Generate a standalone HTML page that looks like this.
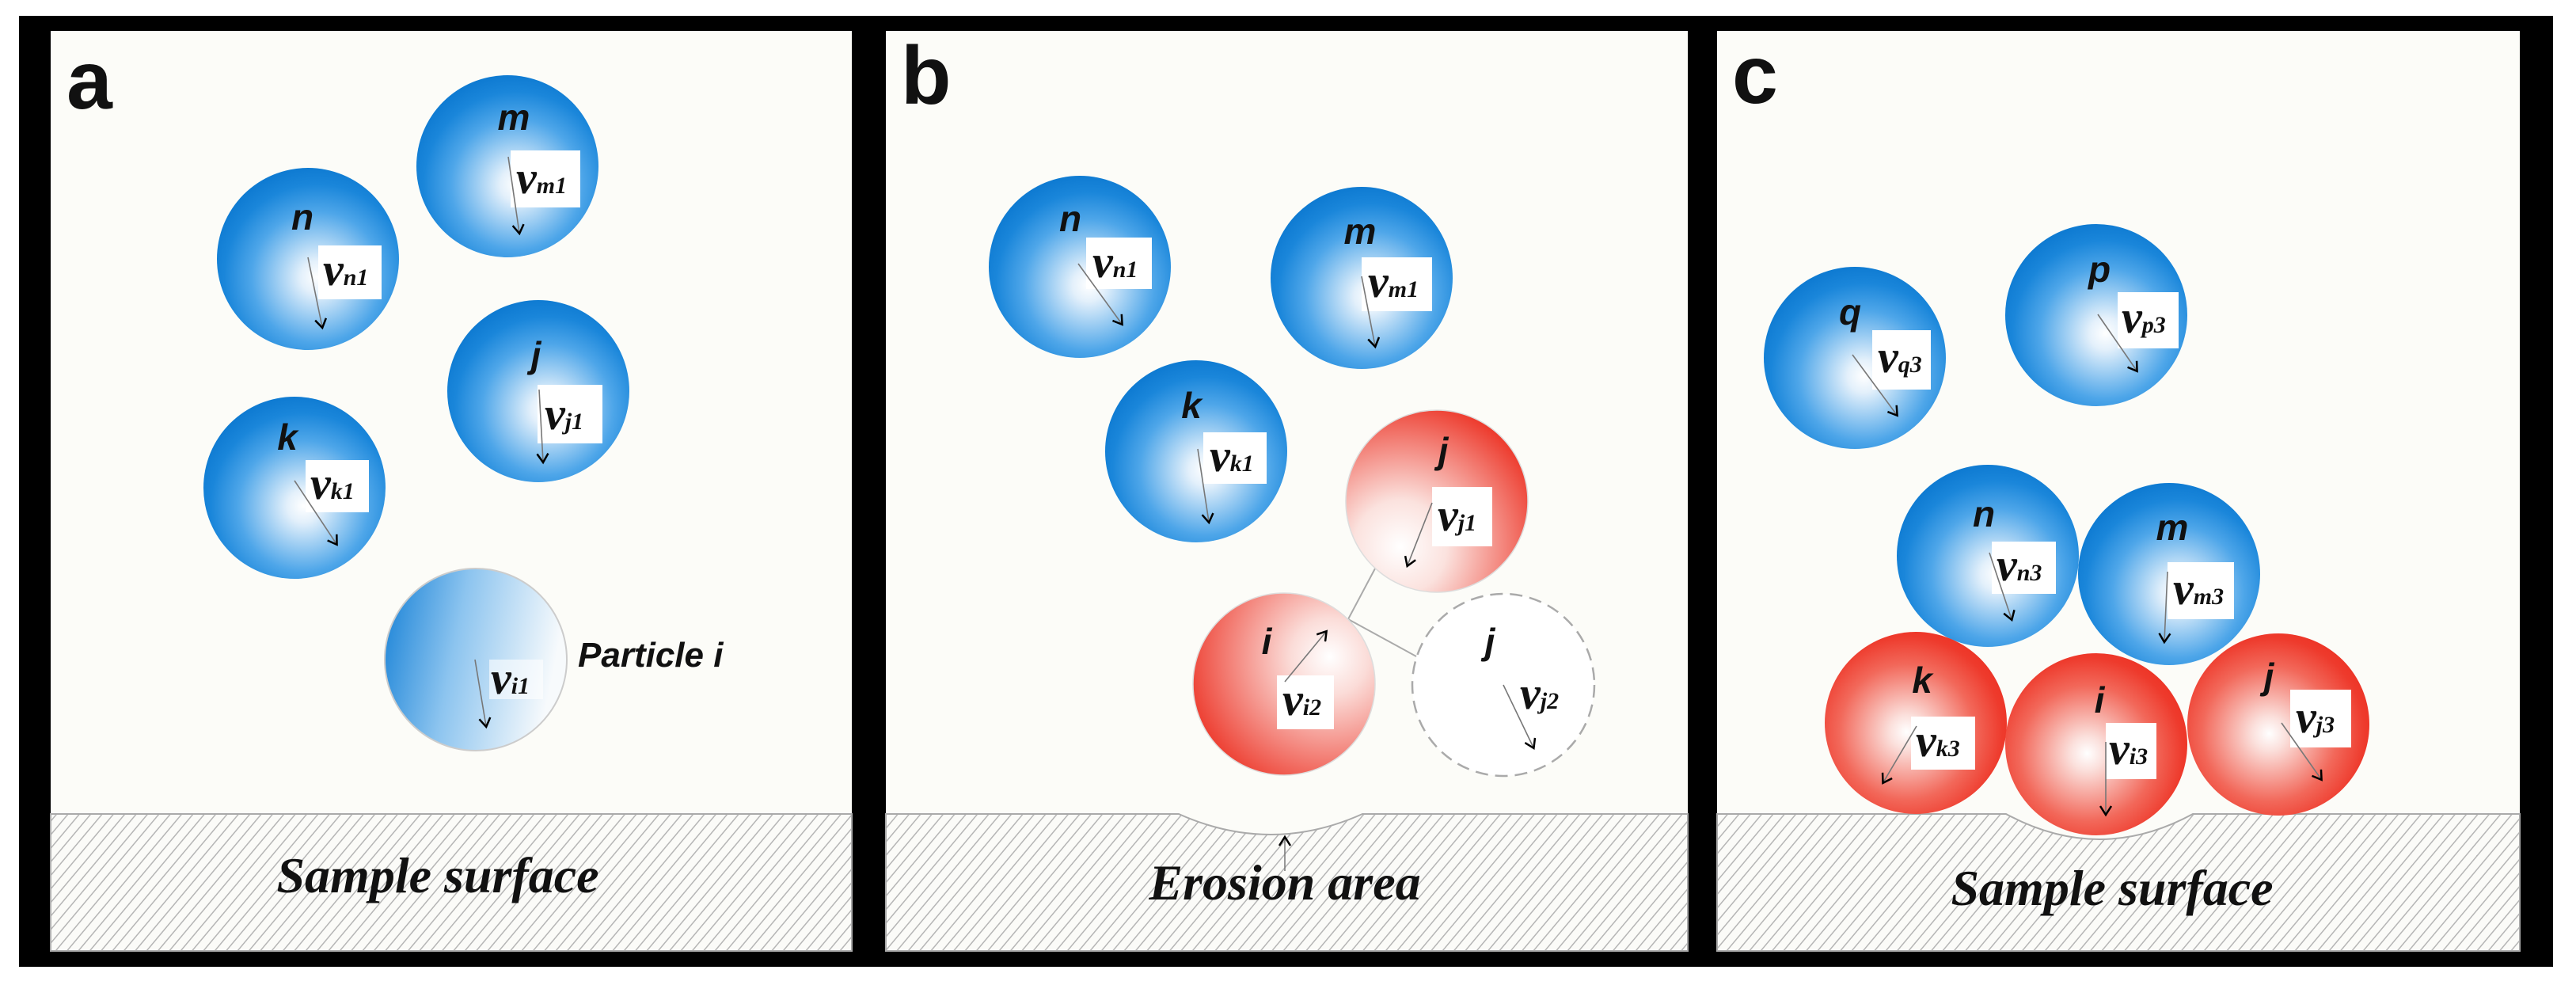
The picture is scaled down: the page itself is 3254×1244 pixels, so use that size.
<!DOCTYPE html>
<html><head><meta charset="utf-8"><style>
html,body{margin:0;padding:0;background:#fff;}
svg{display:block;}
.L{font-family:"Liberation Sans",sans-serif;font-weight:bold;font-style:italic;font-size:46px;fill:#111;text-anchor:middle;}
.V{font-family:"Liberation Serif",serif;font-weight:bold;font-style:italic;font-size:58px;fill:#111;}
.V tspan{font-size:30px;}
.S{font-family:"Liberation Serif",serif;font-weight:bold;font-style:italic;font-size:64px;fill:#111;text-anchor:middle;}
.P{font-family:"Liberation Sans",sans-serif;font-weight:bold;font-size:104px;fill:#111;}
.ar{stroke:#777;stroke-width:1.6;fill:none;marker-end:url(#ah);}
.bx{fill:#fff;}
</style></head><body>
<svg width="3254" height="1244" viewBox="0 0 3254 1244" xmlns="http://www.w3.org/2000/svg">
<defs>
<radialGradient id="gb" cx="0.55" cy="0.6" r="0.6">
<stop offset="0" stop-color="#ffffff"/><stop offset="0.15" stop-color="#e3f0fb"/><stop offset="0.6" stop-color="#4ea6e9"/><stop offset="0.85" stop-color="#1a86da"/><stop offset="1" stop-color="#0f7bd2"/></radialGradient>
<radialGradient id="gr" cx="0.45" cy="0.55" r="0.62">
<stop offset="0" stop-color="#ffffff"/><stop offset="0.15" stop-color="#fbe0dc"/><stop offset="0.6" stop-color="#f2685a"/><stop offset="0.85" stop-color="#ee3a2c"/><stop offset="1" stop-color="#eb3022"/></radialGradient>
<radialGradient id="grj" cx="0.3" cy="0.75" r="0.85">
<stop offset="0" stop-color="#ffffff"/><stop offset="0.3" stop-color="#fbe2de"/><stop offset="1" stop-color="#ec3022"/></radialGradient>
<radialGradient id="gri" cx="0.75" cy="0.35" r="0.85">
<stop offset="0" stop-color="#ffffff"/><stop offset="0.25" stop-color="#fbdcd8"/><stop offset="1" stop-color="#ec3022"/></radialGradient>
<linearGradient id="gi" x1="0" y1="0" x2="1" y2="0.2">
<stop offset="0" stop-color="#1580d6"/><stop offset="0.45" stop-color="#8cc4ef"/><stop offset="1" stop-color="#f7fafc"/></linearGradient>
<pattern id="h" patternUnits="userSpaceOnUse" width="11" height="11" patternTransform="rotate(40)">
<rect width="11" height="11" fill="#fbfbf8"/><line x1="0" y1="0" x2="0" y2="11" stroke="#b5b5b5" stroke-width="3"/></pattern>
<marker id="ah" markerWidth="16" markerHeight="16" refX="12" refY="8" orient="auto" markerUnits="userSpaceOnUse">
<path d="M2,1 L13,8 L2,15" stroke="#000" stroke-width="2.5" fill="none"/></marker>
</defs>
<rect x="24" y="20" width="3201" height="1201" fill="#000"/>
<rect x="64" y="39" width="1012" height="1162" fill="#fcfcf8"/>
<rect x="1119" y="39" width="1013" height="1162" fill="#fcfcf8"/>
<rect x="2169" y="39" width="1014" height="1162" fill="#fcfcf8"/>
<path d="M64,1028 H1076 V1201 H64 Z" fill="url(#h)" stroke="#aaa" stroke-width="2"/>
<path d="M1119,1028 H1489 Q1605,1080 1721,1028 H2132 V1201 H1119 Z" fill="url(#h)" stroke="#aaa" stroke-width="2"/>
<path d="M2169,1028 H2534 Q2652,1092 2770,1028 H3183 V1201 H2169 Z" fill="url(#h)" stroke="#aaa" stroke-width="2"/>

<text class="P" x="84" y="137">a</text>
<text class="P" x="1138" y="131">b</text>
<text class="P" x="2188" y="130">c</text>

<circle cx="641" cy="210" r="115" fill="url(#gb)"/>
<text class="L" x="649" y="164">m</text>
<rect class="bx" x="645" y="190" width="88" height="72"/>
<text class="V" x="652" y="244">v<tspan>m1</tspan></text>
<line class="ar" x1="642" y1="198" x2="656" y2="294"/>

<circle cx="389" cy="327" r="115" fill="url(#gb)"/>
<text class="L" x="382" y="290">n</text>
<rect class="bx" x="402" y="310" width="80" height="68"/>
<text class="V" x="408" y="360">v<tspan>n1</tspan></text>
<line class="ar" x1="389" y1="325" x2="407" y2="413"/>

<circle cx="680" cy="494" r="115" fill="url(#gb)"/>
<text class="L" x="677" y="464">j</text>
<rect class="bx" x="679" y="486" width="82" height="74"/>
<text class="V" x="688" y="542">v<tspan>j1</tspan></text>
<line class="ar" x1="681" y1="492" x2="686" y2="583"/>

<circle cx="372" cy="616" r="115" fill="url(#gb)"/>
<text class="L" x="363" y="568">k</text>
<rect class="bx" x="386" y="581" width="80" height="66"/>
<text class="V" x="392" y="630">v<tspan>k1</tspan></text>
<line class="ar" x1="372" y1="607" x2="425" y2="687"/>

<circle cx="601" cy="833" r="115" fill="url(#gi)" stroke="#ccc" stroke-width="2"/>
<rect class="bx" x="618" y="833" width="68" height="50" opacity="0.6"/>
<text class="V" x="620" y="876">v<tspan>i1</tspan></text>
<line class="ar" x1="600" y1="833" x2="614" y2="917"/>
<text class="L" x="730" y="842" style="text-anchor:start;font-size:44px">Particle i</text>

<text class="S" x="553" y="1127">Sample surface</text>

<line x1="1703" y1="782" x2="1737" y2="718" stroke="#aaa" stroke-width="2"/>
<line x1="1703" y1="782" x2="1789" y2="829" stroke="#aaa" stroke-width="2"/>

<circle cx="1364" cy="337" r="115" fill="url(#gb)"/>
<text class="L" x="1352" y="292">n</text>
<rect class="bx" x="1372" y="300" width="83" height="65"/>
<text class="V" x="1380" y="350">v<tspan>n1</tspan></text>
<line class="ar" x1="1362" y1="333" x2="1417" y2="409"/>

<circle cx="1720" cy="351" r="115" fill="url(#gb)"/>
<text class="L" x="1718" y="308">m</text>
<rect class="bx" x="1720" y="325" width="89" height="68"/>
<text class="V" x="1728" y="375">v<tspan>m1</tspan></text>
<line class="ar" x1="1720" y1="349" x2="1737" y2="437"/>

<circle cx="1511" cy="570" r="115" fill="url(#gb)"/>
<text class="L" x="1505" y="528">k</text>
<rect class="bx" x="1520" y="546" width="80" height="65"/>
<text class="V" x="1528" y="595">v<tspan>k1</tspan></text>
<line class="ar" x1="1513" y1="567" x2="1527" y2="659"/>

<circle cx="1815" cy="633" r="115" fill="url(#grj)" stroke="#ddd" stroke-width="1.5"/>
<text class="L" x="1823" y="585">j</text>
<rect class="bx" x="1809" y="615" width="76" height="75"/>
<text class="V" x="1816" y="670">v<tspan>j1</tspan></text>
<line class="ar" x1="1809" y1="635" x2="1778" y2="714"/>

<circle cx="1622" cy="864" r="115" fill="url(#gri)" stroke="#ddd" stroke-width="1.5"/>
<text class="L" x="1600" y="826">i</text>
<rect class="bx" x="1613" y="853" width="72" height="68"/>
<text class="V" x="1620" y="903">v<tspan>i2</tspan></text>
<line class="ar" x1="1623" y1="861" x2="1675" y2="798"/>

<circle cx="1899" cy="865" r="115" fill="#fff" stroke="#aaa" stroke-width="2.5" stroke-dasharray="16,9"/>
<text class="L" x="1882" y="826">j</text>
<text class="V" x="1920" y="895">v<tspan>j2</tspan></text>
<line class="ar" x1="1899" y1="865" x2="1937" y2="944"/>

<line x1="1623" y1="1100" x2="1623" y2="1058" stroke="#777" stroke-width="1.5" marker-end="url(#ah)"/>
<text class="S" x="1623" y="1136">Erosion area</text>

<circle cx="2343" cy="452" r="115" fill="url(#gb)"/>
<text class="L" x="2337" y="410">q</text>
<rect class="bx" x="2365" y="417" width="74" height="75"/>
<text class="V" x="2372" y="470">v<tspan>q3</tspan></text>
<line class="ar" x1="2340" y1="448" x2="2396" y2="524"/>

<circle cx="2648" cy="398" r="115" fill="url(#gb)"/>
<text class="L" x="2652" y="356">p</text>
<rect class="bx" x="2675" y="369" width="77" height="71"/>
<text class="V" x="2680" y="420">v<tspan>p3</tspan></text>
<line class="ar" x1="2650" y1="397" x2="2699" y2="468"/>

<circle cx="2511" cy="702" r="115" fill="url(#gb)"/>
<text class="L" x="2506" y="665">n</text>
<rect class="bx" x="2516" y="684" width="81" height="66"/>
<text class="V" x="2522" y="733">v<tspan>n3</tspan></text>
<line class="ar" x1="2513" y1="698" x2="2541" y2="782"/>

<circle cx="2740" cy="725" r="115" fill="url(#gb)"/>
<text class="L" x="2744" y="682">m</text>
<rect class="bx" x="2738" y="710" width="84" height="72"/>
<text class="V" x="2745" y="763">v<tspan>m3</tspan></text>
<line class="ar" x1="2738" y1="722" x2="2734" y2="810"/>

<circle cx="2420" cy="913" r="115" fill="url(#gr)"/>
<text class="L" x="2428" y="875">k</text>
<rect class="bx" x="2414" y="905" width="81" height="67"/>
<text class="V" x="2420" y="955">v<tspan>k3</tspan></text>
<line class="ar" x1="2421" y1="917" x2="2379" y2="988"/>

<circle cx="2648" cy="940" r="115" fill="url(#gr)"/>
<text class="L" x="2652" y="900">i</text>
<rect class="bx" x="2660" y="913" width="64" height="71"/>
<text class="V" x="2664" y="965">v<tspan>i3</tspan></text>
<line class="ar" x1="2660" y1="937" x2="2660" y2="1028"/>

<circle cx="2878" cy="915" r="115" fill="url(#gr)"/>
<text class="L" x="2866" y="870">j</text>
<rect class="bx" x="2893" y="871" width="77" height="73"/>
<text class="V" x="2900" y="925">v<tspan>j3</tspan></text>
<line class="ar" x1="2882" y1="913" x2="2932" y2="984"/>

<text class="S" x="2668" y="1143">Sample surface</text>
</svg>
</body></html>
